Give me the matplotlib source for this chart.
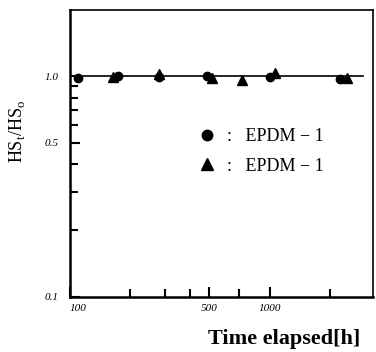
import matplotlib
matplotlib.use("Agg")
import matplotlib.pyplot as plt
from matplotlib.ticker import FixedLocator, NullFormatter

# data
t_circle = [110, 175, 280, 485, 1000, 2250]
hs_circle = [0.985, 1.0, 0.99, 1.005, 0.99, 0.97]
t_tri = [165, 280, 515, 725, 1070, 2450]
hs_tri = [0.99, 1.02, 0.985, 0.965, 1.03, 0.985]
line_t = [100, 2950]
line_hs = [1.0, 1.0]

xticks = [100, 500, 1000]
xtick_labels = ["100", "500", "1000"]
xminor = [200, 300, 400, 700, 2000]
yticks = [0.1, 0.5, 1.0]
ytick_labels = ["0.1", "0.5", "1.0"]
yminor = [0.2, 0.3, 0.4, 0.6, 0.7, 0.8, 0.9]

plt.rcParams['font.family'] = ['Liberation Serif', 'DejaVu Serif']

fig = plt.figure(figsize=(3.76, 3.52), dpi=100)
ax = fig.add_axes([0.186, 0.157, 0.806, 0.815])

ax.plot(line_t, line_hs, color='black', lw=1.2, zorder=2)
h1, = ax.plot(t_circle, hs_circle, 'o', color='black', ms=6, zorder=3, label=':   EPDM \u2212 1')
h2, = ax.plot(t_tri, hs_tri, '^', color='black', ms=6.5, zorder=3, label=':   EPDM \u2212 1')

ax.set_xscale('log')
ax.set_yscale('log')
ax.set_xlim(100, 3300)
ax.set_ylim(0.1, 2.0)

ax.xaxis.set_major_locator(FixedLocator(xticks))
ax.xaxis.set_minor_locator(FixedLocator(xminor))
ax.set_xticklabels(xtick_labels, fontsize=8, style='italic')
ax.xaxis.set_minor_formatter(NullFormatter())
ax.get_xticklabels()[0].set_horizontalalignment('left')
ax.yaxis.set_major_locator(FixedLocator(yticks))
ax.yaxis.set_minor_locator(FixedLocator(yminor))
ax.set_yticklabels(ytick_labels, fontsize=8, style='italic')
ax.yaxis.set_minor_formatter(NullFormatter())

ax.tick_params(which='both', direction='in', width=1.5, color='black')
ax.tick_params(which='major', length=7)
ax.tick_params(which='minor', length=6)
ax.tick_params(axis='y', which='both', pad=8)
ax.tick_params(axis='x', which='both', pad=5)

for s in ['left', 'bottom']:
    ax.spines[s].set_linewidth(1.8)
for s in ['top', 'right']:
    ax.spines[s].set_linewidth(1.2)

ax.set_ylabel('HS$_\\mathregular{t}$/HS$_\\mathregular{o}$', fontsize=13)
ax.yaxis.set_label_coords(-0.142, 0.575)
ax.set_xlabel('Time elapsed[h]', fontsize=16, fontweight='bold', va='center')
ax.xaxis.set_label_coords(0.706, -0.146)

ax.legend(handles=[h1, h2], loc='upper left', bbox_to_anchor=(0.37, 0.645),
          frameon=False, fontsize=13, handletextpad=0.6, handlelength=1.0,
          labelspacing=0.7, markerscale=1.25)

fig.savefig('out.png', dpi=100)
